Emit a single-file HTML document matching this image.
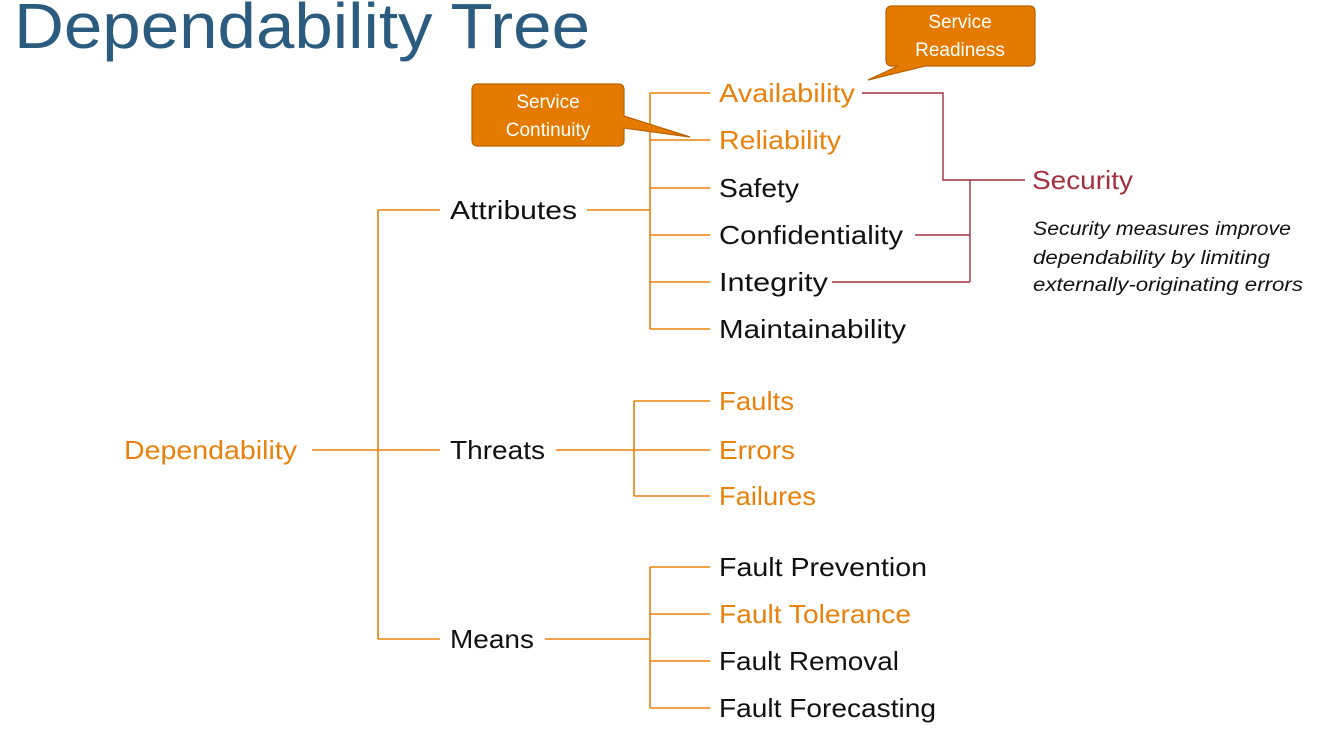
<!DOCTYPE html>
<html><head><meta charset="utf-8"><style>
html,body{margin:0;padding:0;background:#fff;}
svg{display:block;font-family:"Liberation Sans",sans-serif;}
</style></head><body>
<svg width="1326" height="731" viewBox="0 0 1326 731" xmlns="http://www.w3.org/2000/svg">
<text x="14" y="48" font-size="64" fill="#2B5C80" textLength="576" lengthAdjust="spacingAndGlyphs">Dependability Tree</text>
<g stroke="#E8820C" stroke-width="1.6" fill="none">
<path d="M312 450H378M378 210V639M378 210H440M378 450H440M378 639H440"/>
<path d="M587 210H650M650 93V329M650 93H710M650 140H710M650 188H710M650 235H710M650 282H710M650 329H710"/>
<path d="M556 450H634M634 401V496M634 401H710M634 450H710M634 496H710"/>
<path d="M545 639H650M650 567V708M650 567H710M650 614H710M650 661H710M650 708H710"/>
</g>
<g stroke="#A3303E" stroke-width="1.4" fill="none">
<path d="M862 93H943V180H1025M970 180V282M915 235H970M832 282H970"/>
</g>
<g font-size="26">
<text x="124" y="459" fill="#E8820C" textLength="173" lengthAdjust="spacingAndGlyphs">Dependability</text>
<text x="450" y="219" fill="#111" textLength="127" lengthAdjust="spacingAndGlyphs">Attributes</text>
<text x="450" y="459" fill="#111" textLength="95" lengthAdjust="spacingAndGlyphs">Threats</text>
<text x="450" y="648" fill="#111" textLength="84" lengthAdjust="spacingAndGlyphs">Means</text>
<text x="719" y="102" fill="#E8820C" textLength="136" lengthAdjust="spacingAndGlyphs">Availability</text>
<text x="719" y="149" fill="#E8820C" textLength="122" lengthAdjust="spacingAndGlyphs">Reliability</text>
<text x="719" y="197" fill="#111" textLength="80" lengthAdjust="spacingAndGlyphs">Safety</text>
<text x="719" y="244" fill="#111" textLength="184" lengthAdjust="spacingAndGlyphs">Confidentiality</text>
<text x="719" y="291" fill="#111" textLength="109" lengthAdjust="spacingAndGlyphs">Integrity</text>
<text x="719" y="338" fill="#111" textLength="187" lengthAdjust="spacingAndGlyphs">Maintainability</text>
<text x="719" y="410" fill="#E8820C" textLength="75" lengthAdjust="spacingAndGlyphs">Faults</text>
<text x="719" y="459" fill="#E8820C" textLength="76" lengthAdjust="spacingAndGlyphs">Errors</text>
<text x="719" y="505" fill="#E8820C" textLength="97" lengthAdjust="spacingAndGlyphs">Failures</text>
<text x="719" y="576" fill="#111" textLength="208" lengthAdjust="spacingAndGlyphs">Fault Prevention</text>
<text x="719" y="623" fill="#E8820C" textLength="192" lengthAdjust="spacingAndGlyphs">Fault Tolerance</text>
<text x="719" y="670" fill="#111" textLength="180" lengthAdjust="spacingAndGlyphs">Fault Removal</text>
<text x="719" y="717" fill="#111" textLength="217" lengthAdjust="spacingAndGlyphs">Fault Forecasting</text>
<text x="1032" y="189" fill="#A3303E" textLength="101" lengthAdjust="spacingAndGlyphs">Security</text>
</g>
<g font-size="19" font-style="italic" fill="#111">
<text x="1033" y="235" textLength="258" lengthAdjust="spacingAndGlyphs">Security measures improve</text>
<text x="1033" y="264" textLength="237" lengthAdjust="spacingAndGlyphs">dependability by limiting</text>
<text x="1033" y="291" textLength="270" lengthAdjust="spacingAndGlyphs">externally-originating errors</text>
</g>
<g fill="#E47B00" stroke="#B96000" stroke-width="1.2">
<path d="M892 6H1029Q1035 6 1035 12V60Q1035 66 1029 66H925L868 80L898 66H892Q886 66 886 60V12Q886 6 892 6Z"/>
<path d="M478 84H618Q624 84 624 90V116L690 137L624 128V140Q624 146 618 146H478Q472 146 472 140V90Q472 84 478 84Z"/>
</g>
<g font-size="19" fill="#fff" text-anchor="middle">
<text x="960" y="28">Service</text>
<text x="960" y="56">Readiness</text>
<text x="548" y="108">Service</text>
<text x="548" y="136">Continuity</text>
</g>
</svg>
</body></html>
